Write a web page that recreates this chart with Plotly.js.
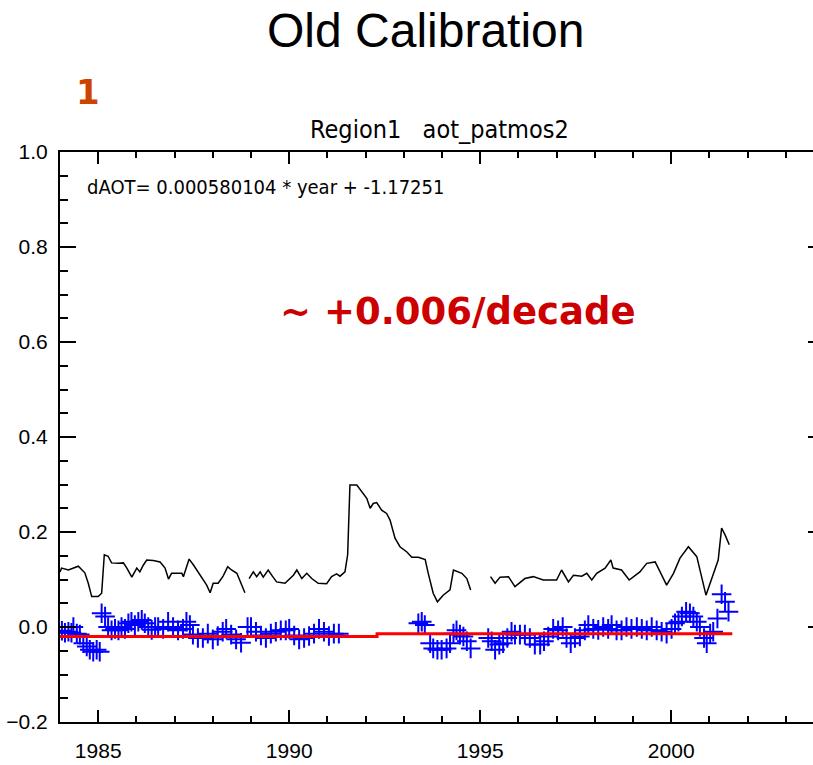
<!DOCTYPE html>
<html>
<head>
<meta charset="utf-8">
<script src="https://cdn.plot.ly/plotly-3.0.1.min.js"></script>
<style>
  html, body { margin: 0; padding: 0; background: #ffffff; overflow: hidden; width: 813px; height: 765px; }
  #chart { width: 830px; height: 765px; }
</style>
</head>
<body>
<div id="chart"></div>
<script>
// ---- AOT (black line), three segments separated by data gaps ----
const aotYears1 = [1984.00,1984.04,1984.22,1984.48,1984.65,1984.74,1984.83,1985.00,1985.09,1985.16,1985.26,1985.35,1985.53,1985.66,1985.75,1985.88,1986.01,1986.09,1986.18,1986.27,1986.44,1986.62,1986.75,1986.84,1986.92,1987.19,1987.23,1987.32,1987.38,1987.49,1987.58,1987.71,1987.84,1987.93,1988.01,1988.14,1988.27,1988.39,1988.49,1988.63,1988.76,1988.84];
const aotVals1  = [0.116,0.124,0.120,0.128,0.114,0.092,0.064,0.064,0.071,0.152,0.149,0.135,0.134,0.135,0.124,0.105,0.124,0.116,0.130,0.141,0.140,0.137,0.124,0.101,0.113,0.113,0.106,0.131,0.143,0.131,0.120,0.106,0.088,0.072,0.092,0.092,0.107,0.127,0.120,0.113,0.088,0.072];
const aotYears2 = [1988.95,1989.06,1989.15,1989.24,1989.32,1989.45,1989.56,1989.67,1989.89,1990.02,1990.11,1990.20,1990.33,1990.46,1990.59,1990.76,1990.98,1991.11,1991.24,1991.33,1991.46,1991.53,1991.59,1991.77,1991.90,1992.03,1992.12,1992.20,1992.29,1992.42,1992.55,1992.64,1992.77,1992.90,1993.08,1993.21,1993.38,1993.56,1993.64,1993.77,1993.88,1994.03,1994.21,1994.30,1994.52,1994.65,1994.75];
const aotVals2  = [0.102,0.116,0.106,0.116,0.105,0.120,0.107,0.095,0.092,0.102,0.109,0.120,0.102,0.113,0.102,0.092,0.091,0.106,0.112,0.107,0.116,0.152,0.299,0.299,0.285,0.271,0.250,0.260,0.262,0.246,0.239,0.225,0.187,0.169,0.158,0.147,0.147,0.142,0.113,0.071,0.053,0.067,0.078,0.120,0.113,0.102,0.078];
const aotYears3 = [1995.27,1995.39,1995.52,1995.74,1995.91,1996.17,1996.39,1996.65,1997.00,1997.13,1997.31,1997.44,1997.66,1997.79,1997.92,1998.05,1998.27,1998.42,1998.48,1998.70,1998.90,1999.01,1999.18,1999.36,1999.58,1999.71,1999.88,2000.06,2000.23,2000.45,2000.67,2000.91,2001.06,2001.23,2001.32,2001.41,2001.52];
const aotVals3  = [0.106,0.092,0.105,0.106,0.085,0.102,0.106,0.099,0.099,0.120,0.095,0.109,0.107,0.113,0.099,0.113,0.124,0.141,0.124,0.120,0.099,0.106,0.116,0.134,0.137,0.116,0.088,0.113,0.145,0.169,0.148,0.067,0.102,0.141,0.208,0.194,0.173];

// ---- dAOT (blue crosses) ----
const dYears1 = [1984.05,1984.13,1984.22,1984.30,1984.35,1984.44,1984.52,1984.61,1984.70,1984.78,1984.87,1984.96,1985.04,1985.09,1985.18,1985.26,1985.35,1985.44,1985.53,1985.61,1985.70,1985.79,1985.87,1985.96,1986.05,1986.14,1986.22,1986.31,1986.40,1986.49,1986.57,1986.70,1986.83,1986.96,1987.09,1987.22,1987.31,1987.40,1987.48,1987.61,1987.74,1987.87,1988.00,1988.13,1988.26,1988.35,1988.48,1988.61,1988.74,1988.91,1989.00,1989.13,1989.26,1989.39,1989.52,1989.65,1989.78,1989.91,1990.00,1990.13,1990.26,1990.39,1990.52,1990.65,1990.78,1990.91,1991.04,1991.17,1991.30];
const dVals1  = [-0.008,-0.012,-0.010,-0.012,0.000,-0.014,-0.016,-0.034,-0.041,-0.048,-0.052,-0.048,-0.052,0.029,0.022,0.000,-0.007,-0.004,-0.007,0.000,-0.004,0.008,0.011,0.004,0.011,0.015,0.008,0.000,-0.006,0.000,0.000,-0.004,0.011,0.000,-0.007,-0.004,0.011,0.004,-0.016,-0.023,-0.023,-0.014,-0.026,-0.019,-0.010,-0.004,-0.016,-0.026,-0.033,0.000,0.000,-0.010,-0.018,-0.023,-0.014,-0.010,-0.007,-0.007,-0.004,-0.018,-0.026,-0.023,-0.019,-0.014,-0.004,-0.010,-0.019,-0.014,-0.014];
const dYears2 = [1993.38,1993.47,1993.55,1993.69,1993.77,1993.88,1993.99,1994.12,1994.21,1994.30,1994.38,1994.47,1994.56,1994.65,1994.75];
const dVals2  = [0.008,0.011,0.004,-0.034,-0.045,-0.048,-0.048,-0.045,-0.034,-0.014,-0.007,-0.016,-0.020,-0.030,-0.045];
const dYears3 = [1995.21,1995.30,1995.39,1995.50,1995.60,1995.71,1995.82,1995.91,1996.04,1996.17,1996.30,1996.43,1996.57,1996.67,1996.78,1996.91,1997.04,1997.16,1997.26,1997.37,1997.48,1997.61,1997.74,1997.83,1997.96,1998.09,1998.22,1998.35,1998.44,1998.57,1998.70,1998.83,1998.96,1999.10,1999.23,1999.36,1999.49,1999.62,1999.75,1999.88,2000.01,2000.10,2000.19,2000.28,2000.39,2000.49,2000.58,2000.67,2000.75,2000.86,2000.93,2001.02,2001.10,2001.21,2001.32,2001.41,2001.50];
const dVals3  = [-0.023,-0.030,-0.048,-0.037,-0.034,-0.023,-0.010,-0.016,-0.016,-0.016,-0.023,-0.037,-0.037,-0.030,-0.020,-0.004,-0.007,0.000,-0.023,-0.034,-0.023,-0.020,-0.007,0.004,-0.004,-0.006,0.000,-0.004,0.004,-0.007,-0.007,0.000,-0.004,0.000,-0.004,-0.007,0.000,-0.007,-0.010,-0.014,-0.004,0.008,0.011,0.022,0.032,0.029,0.022,0.011,0.000,-0.023,-0.034,-0.014,-0.010,0.018,0.069,0.053,0.032];

// ---- Fit line (red), as drawn ----
const fitYears = [1984.0, 1992.3, 1992.3, 2001.6];
const fitVals  = [-0.020, -0.020, -0.014, -0.014];

// ---- Axis ticks ----
const xTickVals = [1985, 1990, 1995, 2000];
const xTickText = ["1985", "1990", "1995", "2000"];
const yTickVals = [-0.2, 0.0, 0.2, 0.4, 0.6, 0.8, 1.0];
const yTickText = ["−0.2", "0.0", "0.2", "0.4", "0.6", "0.8", "1.0"];

// ---- Texts ----
const mainTitle = "Old Calibration";
const panelLabel = "1";
const plotTitle = "Region1   aot_patmos2";
const fitText = "dAOT= 0.000580104 * year + -1.17251";
const trendText = "~ +0.006/decade";

const aotX = aotYears1.concat([null], aotYears2, [null], aotYears3);
const aotY = aotVals1.concat([null], aotVals2, [null], aotVals3);
const dX = dYears1.concat(dYears2, dYears3);
const dY = dVals1.concat(dVals2, dVals3);

const thin = "Liberation Sans, Arial, sans-serif";
const narrow = "DejaVu Sans Condensed, Liberation Sans, sans-serif";

const traces = [
  { x: aotX, y: aotY, type: "scatter", mode: "lines", connectgaps: false,
    line: { color: "#000000", width: 1.5 }, hoverinfo: "skip", cliponaxis: false },
  { x: dX, y: dY, type: "scatter", mode: "markers",
    marker: { symbol: "cross-thin-open", size: 14, color: "#0000ff", line: { color: "#0000ff", width: 2 } },
    hoverinfo: "skip" },
  { x: fitYears, y: fitVals, type: "scatter", mode: "lines",
    line: { color: "#ff0000", width: 3 }, hoverinfo: "skip" }
];

const axisCommon = {
  showgrid: false, zeroline: false, showline: true, linecolor: "#000000", linewidth: 2,
  mirror: "ticks", ticks: "inside", tickcolor: "#000000", tickwidth: 2,
  tickfont: { family: thin, size: 21, color: "#000000" }
};

const layout = {
  width: 830, height: 765,
  margin: { l: 60, r: 6, t: 152, b: 43, pad: 0 },
  paper_bgcolor: "#ffffff", plot_bgcolor: "#ffffff",
  showlegend: false,
  xaxis: Object.assign({}, axisCommon, {
    range: [1984, 2004], tickmode: "array", tickvals: xTickVals, ticktext: xTickText,
    ticklen: 12, ticklabelstandoff: 9,
    minor: { dtick: 1, tick0: 1984, ticks: "inside", ticklen: 6, tickcolor: "#000000", tickwidth: 2 }
  }),
  yaxis: Object.assign({}, axisCommon, {
    range: [-0.2, 1.0], tickmode: "array", tickvals: yTickVals, ticktext: yTickText,
    ticklen: 16, ticklabelstandoff: 6,
    minor: { dtick: 0.05, tick0: 0, ticks: "inside", ticklen: 8, tickcolor: "#000000", tickwidth: 2 }
  }),
  annotations: [
    { text: mainTitle, xref: "paper", yref: "paper", x: 0.479, y: 1.2123, xanchor: "center", yanchor: "middle",
      showarrow: false, font: { family: "Liberation Sans, Arial, sans-serif", size: 48, color: "#000000" } },
    { text: "<b>" + panelLabel + "</b>", xref: "paper", yref: "paper", x: 0.0366, y: 1.105, xanchor: "center", yanchor: "middle",
      showarrow: false, font: { family: "DejaVu Sans, sans-serif", size: 34, color: "#cc4400" } },
    { text: plotTitle, xref: "paper", yref: "paper", x: 0.497, y: 1.0386, xanchor: "center", yanchor: "middle",
      showarrow: false, font: { family: narrow, size: 25, color: "#000000" } },
    { text: fitText, xref: "paper", yref: "paper", x: 0.0327, y: 0.9386, xanchor: "left", yanchor: "middle",
      showarrow: false, font: { family: narrow, size: 20, color: "#000000" } },
    { text: "<b>" + trendText + "</b>", xref: "paper", yref: "paper", x: 0.521, y: 0.721, xanchor: "center", yanchor: "middle",
      showarrow: false, font: { family: "DejaVu Sans, sans-serif", size: 37, color: "#cc0000" } }
  ]
};

Plotly.newPlot("chart", traces, layout, { displayModeBar: false, staticPlot: true });
</script>
</body>
</html>
